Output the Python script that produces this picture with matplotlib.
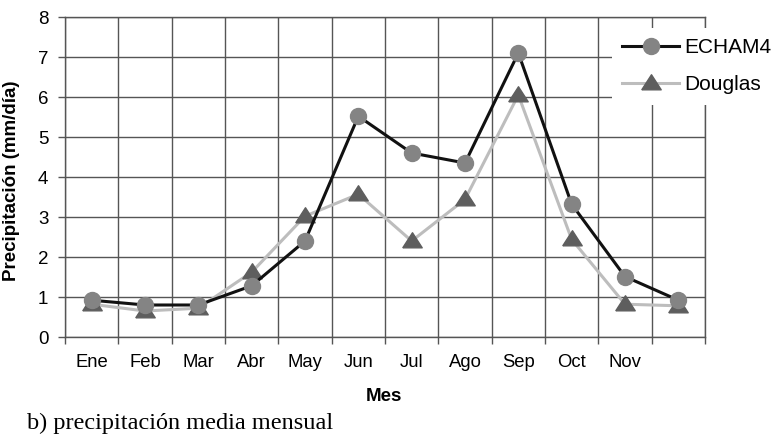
import matplotlib
matplotlib.use("Agg")
import matplotlib.pyplot as plt
import numpy as np

months = ["Ene", "Feb", "Mar", "Abr", "May", "Jun", "Jul", "Ago", "Sep", "Oct", "Nov", "Dic"]
tick_labels = ["Ene", "Feb", "Mar", "Abr", "May", "Jun", "Jul", "Ago", "Sep", "Oct", "Nov", ""]
echam4 = [0.92, 0.80, 0.80, 1.28, 2.40, 5.52, 4.60, 4.35, 7.10, 3.32, 1.51, 0.92]
douglas = [0.82, 0.65, 0.72, 1.62, 3.02, 3.57, 2.40, 3.44, 6.05, 2.44, 0.82, 0.78]

plt.rcParams['font.family'] = ['Liberation Sans', 'DejaVu Sans']

tri = [(-1, -0.65), (1, -0.65), (0, 0.9), (-1, -0.65)]

fig = plt.figure(figsize=(7.74, 4.36), dpi=100)
ax = fig.add_axes([65/774, 1-337/436, 640/774, 320/436])

x = np.arange(len(months))
ax.plot(x, echam4, color='#111111', lw=2.2, marker='o', markersize=11.5,
        markerfacecolor='#848484', markeredgecolor='#848484', label='ECHAM4', zorder=4)
ax.plot(x, douglas, color='#bdbdbd', lw=2.2, marker=tri, markersize=14,
        markerfacecolor='#5e5e5e', markeredgecolor='#5e5e5e', label='Douglas', zorder=3)

ax.set_xlim(-0.5, 11.5)
ax.set_ylim(0, 8)
ax.set_yticks(range(0, 9))
ax.set_xticks(x)
ax.set_xticklabels(tick_labels)
ax.set_xticks(np.arange(-0.5, 12, 1), minor=True)
ax.tick_params(axis='x', which='major', length=0, pad=12, labelsize=13.3)
ax.tick_params(axis='x', which='minor', length=5, color='#555555', width=1)
ax.tick_params(axis='y', length=5, color='#555555', width=1, labelsize=13.5, pad=7)
ax.grid(True, which='minor', axis='x', color='#555555', lw=1)
ax.grid(True, which='major', axis='y', color='#555555', lw=1)
for s in ax.spines.values():
    s.set_color('#555555')
    s.set_linewidth(1)

ax.set_ylabel('Precipitación (mm/día)', fontsize=13.5, fontweight='bold')
ax.yaxis.set_label_coords(12/774, 1-181/436, transform=fig.transFigure)
ax.set_xlabel('Mes', fontsize=13.5, fontweight='bold')
ax.xaxis.set_label_coords(384/774, 1-396/436, transform=fig.transFigure)
ax.xaxis.label.set_va('center')
ax.yaxis.label.set_va('center')

leg = ax.legend(loc='upper left', bbox_to_anchor=(612/774, 1-28/436),
                bbox_transform=fig.transFigure, frameon=True, fancybox=False,
                facecolor='white', edgecolor='none', framealpha=1,
                fontsize=15, handlelength=2.7, labelspacing=0.85,
                borderpad=0.5, handletextpad=0.25, borderaxespad=0)
leg.set_zorder(10)

fig.text(27/774, 1-423/436, 'b) precipitación media mensual', fontsize=17.5,
         family=['Liberation Serif', 'DejaVu Serif'], va='center', ha='left')

fig.savefig('out.png', dpi=100)
